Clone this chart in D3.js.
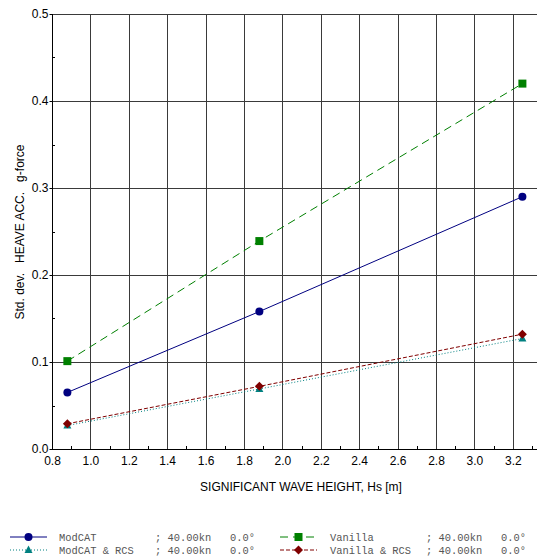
<!DOCTYPE html>
<html>
<head>
<meta charset="utf-8">
<script src="https://cdn.jsdelivr.net/npm/d3@7"></script>
<style>
  body { margin: 0; background: #fff; }
  svg { display: block; }
  .tick text { font-family: "Liberation Sans", Arial, sans-serif; font-size: 12px; fill: #000; }
</style>
</head>
<body>
<div id="container"></div>
<script>
const waveHeights = [0.88, 1.88, 3.25];
const modcat = [0.065, 0.158, 0.290];
const modcatRcs = [0.027, 0.069, 0.127];
const vanilla = [0.101, 0.239, 0.420];
const vanillaRcs = [0.029, 0.072, 0.132];
const xTicks = [0.8, 1.0, 1.2, 1.4, 1.6, 1.8, 2.0, 2.2, 2.4, 2.6, 2.8, 3.0, 3.2];
const yTicks = [0.0, 0.1, 0.2, 0.3, 0.4, 0.5];

const series = [
  { name: 'ModCAT', values: modcat, color: '#000080', dash: null, marker: 'circle' },
  { name: 'ModCAT & RCS', values: modcatRcs, color: '#008080', dash: '1,2', marker: 'triangle' },
  { name: 'Vanilla', values: vanilla, color: '#008000', dash: '8,5', marker: 'square' },
  { name: 'Vanilla & RCS', values: vanillaRcs, color: '#800000', dash: '4,2', marker: 'diamond' }
];

const width = 537, height = 560;
const svg = d3.select('#container').append('svg')
  .attr('width', width).attr('height', height);

const x = d3.scaleLinear().domain([0.8, 3.35]).range([52, 541.6]);
const y = d3.scaleLinear().domain([0, 0.5]).range([449, 14]);

const grid = svg.append('g').attr('stroke', '#3a3a3a').attr('stroke-width', 1).attr('shape-rendering', 'crispEdges');
grid.selectAll('.vg').data(xTicks.slice(1)).join('line')
  .attr('x1', d => Math.round(x(d)) + 0.5).attr('x2', d => Math.round(x(d)) + 0.5)
  .attr('y1', y(0)).attr('y2', y(0.5));
grid.selectAll('.hg').data(yTicks.slice(1)).join('line')
  .attr('x1', x(0.8)).attr('x2', width)
  .attr('y1', d => Math.round(y(d)) + 0.5).attr('y2', d => Math.round(y(d)) + 0.5);

// minor ticks
const minorX = d3.range(0.9, 3.35, 0.2);
svg.append('g').attr('stroke', '#000').attr('shape-rendering', 'crispEdges')
  .selectAll('line').data(minorX).join('line')
  .attr('x1', d => Math.round(x(d)) + 0.5).attr('x2', d => Math.round(x(d)) + 0.5)
  .attr('y1', y(0)).attr('y2', y(0) - 3);
const minorY = [0.05, 0.15, 0.25, 0.35, 0.45];
svg.append('g').attr('stroke', '#000').attr('shape-rendering', 'crispEdges')
  .selectAll('line').data(minorY).join('line')
  .attr('x1', x(0.8)).attr('x2', x(0.8) + 3)
  .attr('y1', d => Math.round(y(d)) + 0.5).attr('y2', d => Math.round(y(d)) + 0.5);

const xAxis = svg.append('g')
  .attr('transform', `translate(0,${y(0) + 0.5})`)
  .call(d3.axisBottom(x).tickValues(xTicks).tickFormat(d3.format('.1f')).tickSize(0).tickPadding(7));
xAxis.select('.domain').attr('d', `M${x(0.8)},0H${width}`).attr('stroke', '#000');

const yAxis = svg.append('g')
  .attr('transform', `translate(${x(0.8) + 0.5},0)`)
  .call(d3.axisLeft(y).tickValues(yTicks).tickFormat(d3.format('.1f')).tickSize(3).tickPadding(1));
yAxis.select('.domain').attr('d', `M0,${y(0.5)}V${y(0)}`).attr('stroke', '#000');

svg.append('text')
  .attr('x', 301).attr('y', 491)
  .attr('text-anchor', 'middle')
  .attr('font-family', '"Liberation Sans", Arial, sans-serif')
  .attr('font-size', 12)
  .text('SIGNIFICANT WAVE HEIGHT, Hs [m]');

svg.append('text')
  .attr('transform', 'translate(24,232) rotate(-90)')
  .attr('text-anchor', 'middle')
  .attr('font-family', '"Liberation Sans", Arial, sans-serif')
  .attr('font-size', 12)
  .attr('xml:space', 'preserve')
  .text('Std. dev.   HEAVE ACC.   g-force');

function drawMarker(g, type, cx, cy, color) {
  if (type === 'circle') {
    g.append('circle').attr('cx', cx).attr('cy', cy).attr('r', 4).attr('fill', color);
  } else if (type === 'square') {
    g.append('rect').attr('x', cx - 4).attr('y', cy - 4).attr('width', 8).attr('height', 8).attr('fill', color);
  } else if (type === 'triangle') {
    g.append('path').attr('d', `M${cx},${cy - 4.5}L${cx + 4},${cy + 3}L${cx - 4},${cy + 3}Z`).attr('fill', color);
  } else if (type === 'diamond') {
    g.append('path').attr('d', `M${cx},${cy - 4.5}L${cx + 4.5},${cy}L${cx},${cy + 4.5}L${cx - 4.5},${cy}Z`).attr('fill', color);
  }
}

const line = d3.line().x(d => x(d[0])).y(d => y(d[1]));
series.forEach(s => {
  const pts = waveHeights.map((h, i) => [h, s.values[i]]);
  const g = svg.append('g');
  g.append('path').datum(pts)
    .attr('d', line)
    .attr('fill', 'none')
    .attr('stroke', s.color)
    .attr('stroke-width', 1)
    .attr('stroke-dasharray', s.dash);
  pts.forEach(p => drawMarker(g, s.marker, x(p[0]), y(p[1]), s.color));
});

// legend
const legendPos = [
  { sx: 10, tx: 59, y: 537 },
  { sx: 10, tx: 59, y: 550 },
  { sx: 280, tx: 330, y: 537 },
  { sx: 280, tx: 330, y: 550 }
];
series.forEach((s, i) => {
  const p = legendPos[i];
  const g = svg.append('g');
  g.append('line')
    .attr('x1', p.sx).attr('x2', p.sx + 37)
    .attr('y1', p.y).attr('y2', p.y)
    .attr('stroke', s.color).attr('stroke-width', 1)
    .attr('stroke-dasharray', s.dash);
  drawMarker(g, s.marker, p.sx + 18.5, p.y, s.color);
  const t = g.append('text')
    .attr('y', p.y + 3.5)
    .attr('font-family', '"Liberation Mono", "Courier New", monospace')
    .attr('font-size', 10.4)
    .attr('fill', '#555');
  t.append('tspan').attr('x', p.tx).text(s.name);
  t.append('tspan').attr('x', p.tx + 96).text('; 40.00kn');
  t.append('tspan').attr('x', p.tx + 171).text('0.0°');
});
</script>
</body>
</html>
